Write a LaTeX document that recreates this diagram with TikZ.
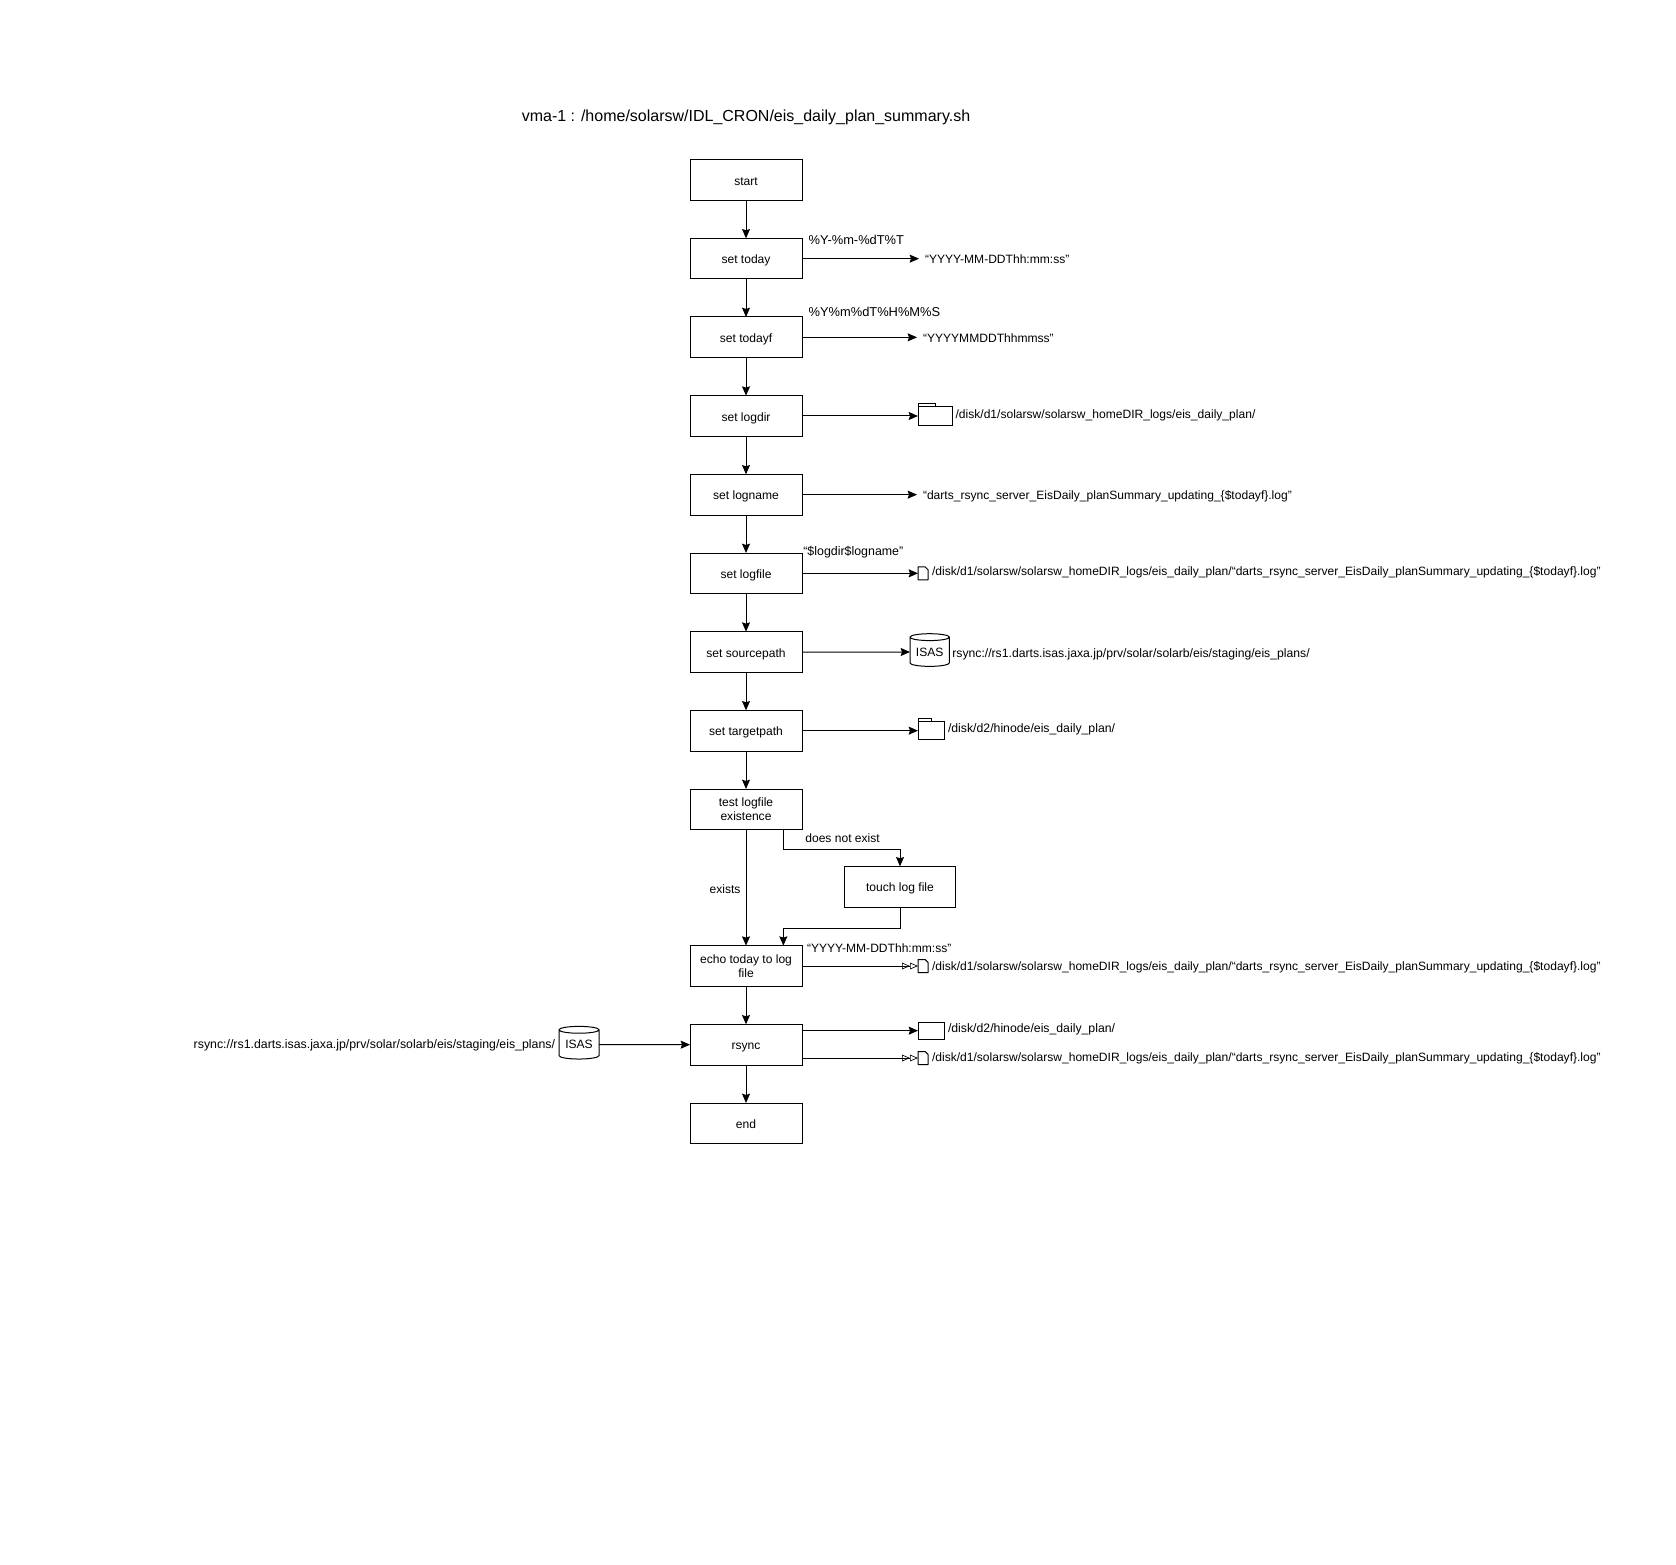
\documentclass[tikz,border=0pt]{standalone}
\usepackage{fontspec}
\setmainfont{Liberation Sans}
\usetikzlibrary{arrows.meta,positioning,shapes.geometric,calc}
\newcommand{\logpath}{/disk/d1/solarsw/solarsw\_homeDIR\_logs/eis\_daily\_plan/“darts\_rsync\_server\_EisDaily\_planSummary\_updating\_\{\$todayf\}.log”}
\newcommand{\isaspath}{rsync://rs1.darts.isas.jaxa.jp/prv/solar/solarb/eis/staging/eis\_plans/}
\newcommand{\foldertab}[2]{\draw[line width=0.75pt] (#1.north west) -- ++(0,2.25pt) -- ++(#2,0) -- ++(0,-2.25pt);}
\newcommand{\docicon}[1]{\draw[line width=0.75pt, line join=round] (#1.south west) |- ($(#1.north east)+(-2.2pt,0)$) -- ($(#1.north east)+(0,-2.2pt)$) |- cycle;}

\begin{document}
\begin{tikzpicture}[
        font=\fontsize{9.05}{10.5}\selectfont,
        line width=0.75pt,
        stepbox/.style={rectangle, draw, outer sep=0pt, minimum width=84pt, minimum height=30.5pt, inner sep=0pt, align=center},
        onebox/.style={stepbox, text height=7.6pt, text depth=0pt},
        txt/.style={inner sep=0pt, outer sep=0pt, anchor=west, text height=6.5pt, text depth=2pt},
        fmt/.style={txt, font=\fontsize{9.65}{11}\selectfont},
        target/.style={inner ysep=0pt, inner xsep=4.5pt, outer sep=0pt, text height=7.6pt, text depth=0pt},
        folder/.style={rectangle, draw, outer sep=0pt, inner sep=0pt, minimum width=#1, minimum height=13.5pt},
        docfile/.style={rectangle, outer sep=0pt, inner sep=0pt, minimum width=7.5pt, minimum height=9.75pt},
        store/.style={cylinder, draw, shape border rotate=90, aspect=0.25, outer sep=0pt, inner sep=0pt, minimum width=29.5pt, minimum height=24.5pt},
        arr/.style={-{Stealth[length=7pt, width=6pt, inset=1pt]}},
        arrdouble/.style={-{Triangle[open, length=6pt, width=5pt, line width=0.5pt]Triangle[open, length=6pt, width=5pt, line width=0.5pt]}}
    ]
    \useasboundingbox (0,0) rectangle (1257pt,-1173.75pt);

    % Main column
    \node (start) [onebox] at (559.5pt,-135pt) {start};
    \node (today) [onebox, below=28.5pt of start] {set today};
    \node (todayf) [onebox, below=28.5pt of today] {set todayf};
    \node (logdir) [onebox, below=28.5pt of todayf] {set logdir};
    \node (logname) [onebox, below=28.5pt of logdir] {set logname};
    \node (logfile) [onebox, below=28.5pt of logname] {set logfile};
    \node (sourcepath) [onebox, below=28.5pt of logfile] {set sourcepath};
    \node (targetpath) [onebox, below=28.5pt of sourcepath] {set targetpath};
    \node (test) [stepbox, below=28.5pt of targetpath] {test logfile\\existence};
    \node (echo) [stepbox, below=87pt of test] {echo today to log\\file};
    \node (rsync) [onebox, below=28.5pt of echo] {rsync};
    \node (end) [onebox, below=28.5pt of rsync] {end};
    \node (touch) [onebox, below right=27.5pt and 32pt of test.south east, anchor=north west, minimum width=83pt] {touch log file};

    % Title
    \node (title) [inner sep=0pt, font=\fontsize{12}{14}\selectfont, above=26pt of start] {vma-1 : /home/solarsw/IDL\_CRON/eis\_daily\_plan\_summary.sh};

    % Column edges
    \draw[arr] (start) -- (today);
    \draw[arr] (today) -- (todayf);
    \draw[arr] (todayf) -- (logdir);
    \draw[arr] (logdir) -- (logname);
    \draw[arr] (logname) -- (logfile);
    \draw[arr] (logfile) -- (sourcepath);
    \draw[arr] (sourcepath) -- (targetpath);
    \draw[arr] (targetpath) -- (test);
    \draw[arr] (test) -- node[left=3.75pt, inner sep=0pt, yshift=-0.8pt] (existstxt) {exists} (echo);
    \draw[arr] (echo) -- (rsync);
    \draw[arr] (rsync) -- (end);

    % Branch through touch
    \coordinate (testout) at ([xshift=28pt]test.south);
    \coordinate (echoin) at ([xshift=28pt]echo.north);
    \draw[arr] (testout) -- ++(0,-14.6pt) -| (touch.north);
    \draw[arr] (touch.south) -- ++(0,-15.75pt) -| (echoin);
    \node (absenttxt) [txt, right=16.5pt of testout, yshift=-7pt] {does not exist};

    % Formats and values
    \node (todayfmt) [fmt, right=5pt of today.north east, yshift=-2.3pt] {\%Y-\%m-\%dT\%T};
    \node (todayval) [target, right=87.75pt of today, anchor=west] {“YYYY-MM-DDThh:mm:ss”};
    \draw[arr] (today) -- (todayval);

    \node (todayffmt) [fmt, right=5pt of todayf.north east, yshift=2.4pt] {\%Y\%m\%dT\%H\%M\%S};
    \node (todayfval) [target, right=86.25pt of todayf, anchor=west] {“YYYYMMDDThhmmss”};
    \draw[arr] (todayf) -- (todayfval);

    \node (lognameval) [target, right=86.25pt of logname, anchor=west] {“darts\_rsync\_server\_EisDaily\_planSummary\_updating\_\{\$todayf\}.log”};
    \draw[arr] (logname) -- (lognameval);

    \node (logfilefmt) [txt, font=\fontsize{9.3}{11}\selectfont, right=1pt of logfile.north east, yshift=0.5pt] {“\$logdir\$logname”};
    \node (echofmt) [txt, right=3.75pt of echo.north east, yshift=-2.9pt] {“YYYY-MM-DDThh:mm:ss”};

    % Log directory
    \node (logdirbox) [folder=25.5pt, right=87pt of logdir] {};
    \foldertab{logdirbox}{12.75pt}
    \draw[arr] (logdir) -- (logdirbox);
    \node (logdirtxt) [txt, right=2.7pt of logdirbox] {/disk/d1/solarsw/solarsw\_homeDIR\_logs/eis\_daily\_plan/};

    % Log file
    \node (logfilebox) [docfile, right=87pt of logfile] {};
    \docicon{logfilebox}
    \draw[arr] (logfile) -- (logfilebox);
    \node (logfiletxt) [txt, right=3pt of logfilebox, yshift=1pt] {\logpath};

    % Source
    \node (isasright) [store, right=81pt of sourcepath] {ISAS};
    \draw[arr] (sourcepath) -- (isasright);
    \node (isasrighttxt) [txt, font=\fontsize{9.15}{11}\selectfont, right=2.25pt of isasright, yshift=-1.6pt] {\isaspath};

    % Target
    \node (targetbox) [folder=19.5pt, right=87pt of targetpath] {};
    \foldertab{targetbox}{9.75pt}
    \draw[arr] (targetpath) -- (targetbox);
    \node (targettxt) [txt, font=\fontsize{9.2}{11}\selectfont, right=3pt of targetbox, yshift=0.6pt] {/disk/d2/hinode/eis\_daily\_plan/};

    % Echo to log
    \node (echobox) [docfile, right=87pt of echo] {};
    \docicon{echobox}
    \draw[arrdouble] (echo) -- (echobox);
    \node (echotxt) [txt, right=3pt of echobox, yshift=-1.1pt] {\logpath};

    % Rsync
    \node (isasleft) [store, left=68.25pt of rsync, minimum width=30pt] {ISAS};
    \draw[arr] (isasleft) -- (rsync);
    \node (isaslefttxt) [txt, font=\fontsize{9.25}{11}\selectfont, left=3pt of isasleft, anchor=east, yshift=-0.8pt] {\isaspath};

    \coordinate (rsynctop) at ([yshift=10.5pt]rsync.east);
    \coordinate (rsynclow) at ([yshift=-10pt]rsync.east);
    \node (rsyncbox) [folder=19.5pt, minimum height=12.5pt, right=87pt of rsynctop] {};
    \draw[arr] (rsynctop) -- (rsyncbox);
    \node (rsyncboxtxt) [txt, font=\fontsize{9.2}{11}\selectfont, right=3pt of rsyncbox, yshift=0.6pt] {/disk/d2/hinode/eis\_daily\_plan/};
    \node (rsyncfile) [docfile, right=87pt of rsynclow] {};
    \docicon{rsyncfile}
    \draw[arrdouble] (rsynclow) -- (rsyncfile);
    \node (rsyncfiletxt) [txt, right=3pt of rsyncfile, yshift=-0.6pt] {\logpath};
\end{tikzpicture}
\end{document}
